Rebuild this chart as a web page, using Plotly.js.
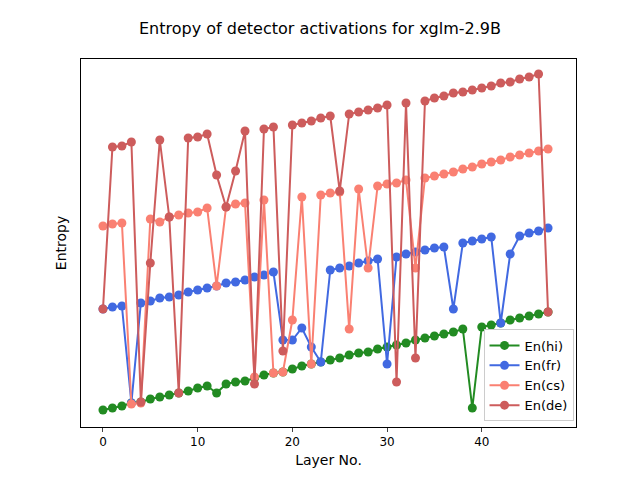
<!DOCTYPE html>
<html><head><meta charset="utf-8">
<script src="https://cdn.plot.ly/plotly-3.0.1.min.js"></script>
<style>body{margin:0}</style></head>
<body><div id="c" style="width:640px;height:480px"></div>
<script>
const layers = Array.from({length:48},(_,i)=>i);
const enHi = [410,408,406,403,402,399,397,395,393,391,388,386,393,384,382,381,378,375,373,372,369,366,364,362,360,358,355,353,352,349,347,345,343,340,338,336,334,332,329,408,327,325,323,320,318,316,314,312];
const enFr = [309,307,306,403,303,301,298,297,295,292,290,288,286,283,282,280,277,275,272,340,340,328,347,362,270,268,266,263,261,259,364,257,254,252,250,248,247,309,243,241,239,237,323,254,236,233,231,228];
const enCs = [226,224,223,404,403,219,222,217,215,213,212,208,286,207,204,203,377,200,373,372,320,197,364,195,193,192,329,189,268,186,184,183,180,268,178,176,174,172,169,167,164,162,160,157,155,153,151,149];
const enDe = [309,147,146,142,402,263,140,217,393,138,137,134,175,207,171,131,384,129,127,351,125,123,121,118,116,191,114,112,110,108,105,382,103,358,101,98,96,93,92,90,88,86,83,82,79,77,74,312];
const names = ['En(hi)','En(fr)','En(cs)','En(de)'];
const colors = ['#228B22','#4169E1','#FA8072','#CD5C5C'];
const series = [enHi,enFr,enCs,enDe];
const traces = series.map((s,k)=>({x:layers,y:s.map(v=>-v),name:names[k],mode:'lines+markers',
  line:{color:colors[k],width:2},marker:{color:colors[k],size:9}}));
const ax = {showline:true,mirror:true,linecolor:'black',linewidth:1,showgrid:false,zeroline:false};
Plotly.newPlot('c',traces,{
  width:640,height:480,paper_bgcolor:'white',plot_bgcolor:'white',
  font:{family:'DejaVu Sans',size:12,color:'black'},
  margin:{l:81,r:64,t:59,b:53},
  title:{text:'Entropy of detector activations for xglm-2.9B',font:{size:16},x:0.5,y:0.94,yanchor:'middle'},
  xaxis:Object.assign({},ax,{range:[-2.32,49.95],tickvals:[0,10,20,30,40],ticks:'outside',ticklen:4,
    title:{text:'Layer No.',standoff:6}}),
  yaxis:Object.assign({},ax,{range:[-427,-59],showticklabels:false,ticks:'',title:{text:'Entropy',standoff:10}}),
  legend:{x:0.995,y:0.015,xanchor:'right',yanchor:'bottom',bgcolor:'rgba(255,255,255,0.8)',
    bordercolor:'#ccc',borderwidth:1,font:{size:13}},
  showlegend:true
},{staticPlot:true});
</script></body></html>
